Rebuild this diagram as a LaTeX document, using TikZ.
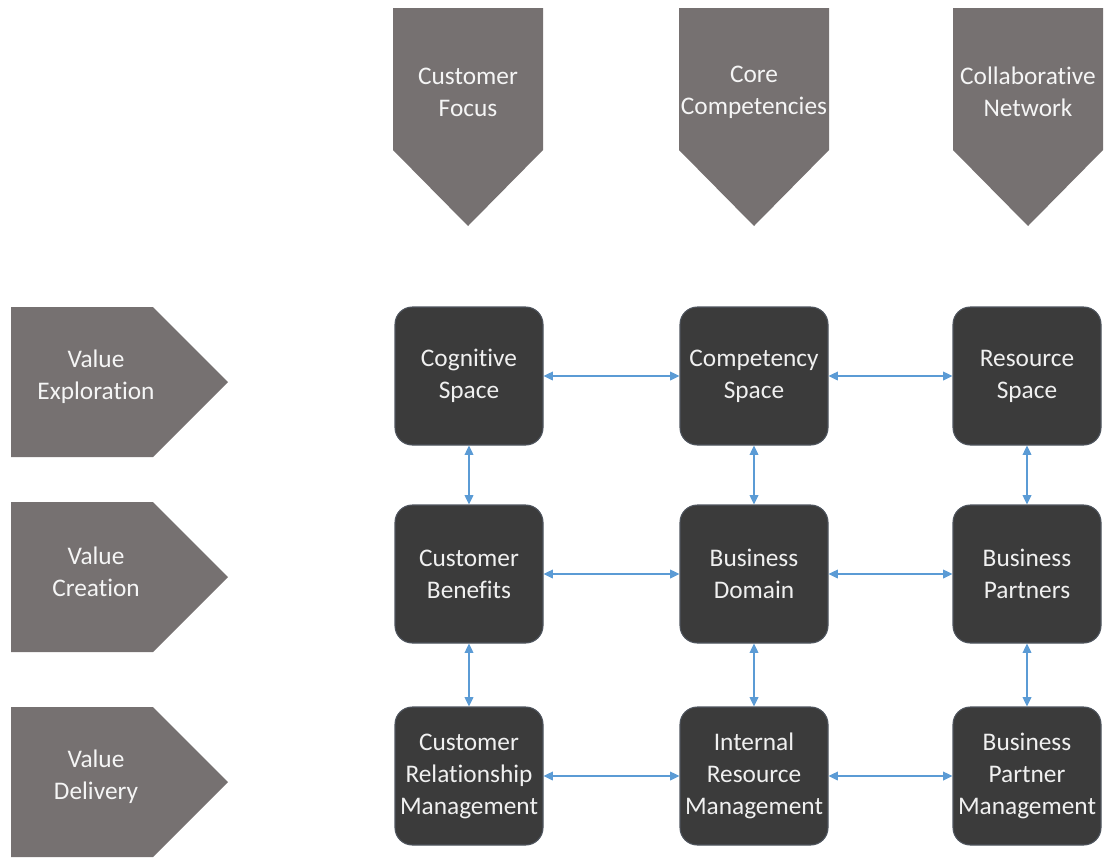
\documentclass[tikz,border=0pt]{standalone}
\usepackage{fontspec}
\setmainfont{Carlito}[Ligatures=CommonOff]
\usetikzlibrary{arrows.meta}
\definecolor{chevgray}{HTML}{767171}
\definecolor{boxdark}{HTML}{3B3B3B}
\definecolor{boxedge}{HTML}{4F555E}
\definecolor{linkblue}{HTML}{5B9BD5}
\tikzset{
  chev/.style={fill=chevgray},
  lbl/.style={align=center, text=white!93!chevgray, inner sep=0pt,
    font=\fontsize{19}{24}\selectfont},
  box/.style={rounded corners=13pt, fill=boxdark, draw=boxedge, line width=0.8pt,
    minimum width=111pt, minimum height=103.5pt, inner sep=0pt, align=center,
    text=white!94!black, font=\fontsize{19}{24}\selectfont},
  link/.style={linkblue, line width=1.1pt,
    {Triangle[length=7pt,width=6.5pt]}-{Triangle[length=7pt,width=6.5pt]}}
}
\begin{document}
\begin{tikzpicture}[x=0.75pt,y=-0.75pt]
  \useasboundingbox (0,0) rectangle (1104,858);
  % column headers
  \foreach \x/\n/\t in {468/cf/{Customer\\Focus},754/cc/{Core\\Competencies},1028/cn/{Collaborative\\Network}}{
    \fill[chev] (\x-75,8) -- (\x+75,8) -- (\x+75,150) -- (\x,226) -- (\x-75,150) -- cycle;
    \node[lbl] (\n) at (\x,92) {\t};
  }
  % row headers
  \foreach \y/\n/\t in {382/ve/{Value\\Exploration},577/vc/{Value\\Creation},782/vd/{Value\\Delivery}}{
    \fill[chev] (11,\y-75) -- (153,\y-75) -- (228,\y) -- (153,\y+75) -- (11,\y+75) -- cycle;
    \node[lbl] (\n) at (96,\y-5) {\t};
  }
  % grid of boxes
  \node[box] (cog)  at (469,376)  {Cognitive\\Space};
  \node[box] (comp) at (754,376)  {Competency\\Space};
  \node[box] (res)  at (1027,376) {Resource\\Space};
  \node[box] (ben)  at (469,574)  {Customer\\Benefits};
  \node[box] (dom)  at (754,574)  {Business\\Domain};
  \node[box] (par)  at (1027,574) {Business\\Partners};
  \node[box] (crm)  at (469,776)  {Customer\\Relationship\\Management};
  \node[box] (irm)  at (754,776)  {Internal\\Resource\\Management};
  \node[box] (bpm)  at (1027,776) {Business\\Partner\\Management};
  \begin{scope}[link]
    \draw (cog) -- (comp);
    \draw (comp) -- (res);
    \draw (ben) -- (dom);
    \draw (dom) -- (par);
    \draw (crm) -- (irm);
    \draw (irm) -- (bpm);
    \draw (cog) -- (ben);
    \draw (ben) -- (crm);
    \draw (comp) -- (dom);
    \draw (dom) -- (irm);
    \draw (res) -- (par);
    \draw (par) -- (bpm);
  \end{scope}
\end{tikzpicture}
\end{document}
